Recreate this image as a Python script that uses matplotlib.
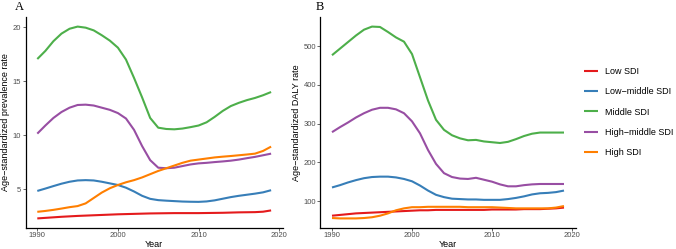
import numpy as np
import matplotlib
matplotlib.use('Agg')
import matplotlib.pyplot as plt

plt.rcParams['font.family'] = ['Liberation Sans', 'DejaVu Sans']

anos = list(range(1990, 2020))
grupos = ['Low SDI', 'Low\u2212middle SDI', 'Middle SDI', 'High\u2212middle SDI', 'High SDI']
cores = ['#E41A1C', '#377EB8', '#4DAF4A', '#984EA3', '#FF7F00']

# Age-standardized prevalence rate (painel A)
prev_low = [2.31, 2.36, 2.41, 2.46, 2.50, 2.54, 2.57, 2.60, 2.63, 2.66, 2.69, 2.71, 2.73, 2.75, 2.77,
            2.78, 2.79, 2.80, 2.80, 2.80, 2.80, 2.81, 2.82, 2.83, 2.85, 2.87, 2.88, 2.89, 2.93, 3.05]
prev_lowmid = [4.85, 5.07, 5.30, 5.52, 5.70, 5.82, 5.85, 5.82, 5.70, 5.55, 5.40, 5.15, 4.80, 4.40, 4.12,
               4.00, 3.95, 3.91, 3.87, 3.85, 3.84, 3.88, 3.98, 4.13, 4.28, 4.40, 4.50, 4.60, 4.72, 4.92]
prev_mid = [17.05, 17.80, 18.70, 19.40, 19.85, 20.05, 19.95, 19.70, 19.25, 18.75, 18.10, 17.00, 15.30, 13.50, 11.60,
            10.70, 10.58, 10.55, 10.62, 10.75, 10.90, 11.20, 11.70, 12.25, 12.70, 13.00, 13.25, 13.45, 13.70, 14.00]
prev_highmid = [10.15, 10.90, 11.60, 12.15, 12.55, 12.80, 12.83, 12.75, 12.55, 12.35, 12.05, 11.55, 10.50, 9.00, 7.70,
                7.00, 6.95, 7.00, 7.15, 7.30, 7.40, 7.45, 7.52, 7.58, 7.65, 7.75, 7.88, 8.00, 8.15, 8.30]
prev_high = [2.92, 3.00, 3.10, 3.22, 3.35, 3.45, 3.70, 4.20, 4.70, 5.10, 5.40, 5.65, 5.85, 6.10, 6.40,
             6.70, 6.95, 7.20, 7.45, 7.65, 7.75, 7.85, 7.95, 8.02, 8.08, 8.15, 8.22, 8.30, 8.55, 8.95]

# Age-standardized DALY rate (painel B)
daly_low = [62, 64, 66, 68, 69, 70, 71, 72, 73, 74, 75, 76, 76, 77, 77,
            77, 77, 77, 77, 77, 78, 78, 78, 78, 79, 79, 79, 80, 81, 83]
daly_lowmid = [135, 141, 148, 154, 159, 162, 163, 163, 161, 157, 151, 140, 127, 116, 110,
               106, 105, 104, 104, 103, 103, 103, 105, 108, 112, 117, 120, 121, 123, 127]
daly_mid = [477, 494, 511, 528, 543, 551, 550, 537, 523, 512, 480, 420, 360, 310, 284,
            270, 262, 257, 258, 254, 252, 250, 253, 260, 268, 274, 277, 277, 277, 277]
daly_highmid = [278, 291, 303, 316, 327, 336, 341, 341, 337, 327, 306, 275, 232, 196, 172,
                162, 158, 157, 160, 155, 150, 143, 138, 138, 141, 143, 144, 144, 144, 144]
daly_high = [56, 55, 55, 55, 56, 58, 62, 68, 76, 81, 84, 84, 85, 85, 85,
             85, 85, 84, 84, 84, 84, 83, 82, 81, 81, 81, 81, 81, 83, 87]

prev = [prev_low, prev_lowmid, prev_mid, prev_highmid, prev_high]
daly = [daly_low, daly_lowmid, daly_mid, daly_highmid, daly_high]

fig = plt.figure(figsize=(6.76, 2.49), dpi=100)
axA = fig.add_axes([25.6 / 676, 21 / 249, 257.2 / 676, 211 / 249])
axB = fig.add_axes([320.4 / 676, 21 / 249, 255.2 / 676, 211 / 249])

def desenha(ax, series, ylabel, yticks):
    linhas = []
    for s, c, g in zip(series, cores, grupos):
        l, = ax.plot(anos, s, color=c, lw=1.5, label=g, solid_capstyle='butt')
        linhas.append(l)
    ax.margins(x=0.05, y=0.05)
    ax.set_xticks([1990, 2000, 2010, 2020])
    ax.set_yticks(yticks)
    ax.set_xlabel('Year', fontsize=6.5, labelpad=0.3)
    ax.set_ylabel(ylabel, fontsize=6.5, labelpad=2)
    ax.tick_params(labelsize=5.5, colors='#4D4D4D', length=2, width=0.6, pad=1.2)
    for lado in ['top', 'right']:
        ax.spines[lado].set_visible(False)
    for lado in ['left', 'bottom']:
        ax.spines[lado].set_linewidth(0.9)
        ax.spines[lado].set_color('black')
    return linhas

linhas = desenha(axA, prev, 'Age\u2212standardized prevalence rate', [5, 10, 15, 20])
desenha(axB, daly, 'Age\u2212standardized DALY rate', [100, 200, 300, 400, 500])

fig.text(19 / 676, 1 - 7 / 249, 'A', family=['Liberation Serif', 'DejaVu Serif'], fontsize=9, ha='center', va='center')
fig.text(320 / 676, 1 - 7 / 249, 'B', family=['Liberation Serif', 'DejaVu Serif'], fontsize=9, ha='center', va='center')

fig.legend(handles=linhas, loc='center left', bbox_to_anchor=(584 / 676, 1 - 112 / 249),
           frameon=False, fontsize=6.5, handlelength=1.5, handletextpad=0.8,
           labelspacing=1.25, borderpad=0, borderaxespad=0)

plt.savefig('out.png', dpi=100)
